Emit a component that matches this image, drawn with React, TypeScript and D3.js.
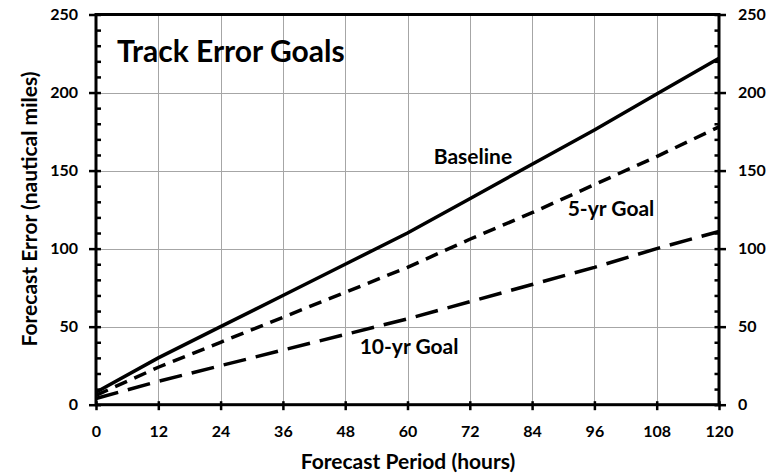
import * as d3 from "d3";
import { useEffect, useRef } from "react";

const hours = [0, 12, 24, 36, 48, 60, 72, 84, 96, 108, 120];
const baseline = [8, 30, 50, 70, 90, 110, 132, 154, 176, 199, 222];
const goal5yr = [6, 24, 40, 56, 72, 88, 106, 123, 141, 159, 178];
const goal10yr = [4, 15, 25, 35, 45, 55, 66, 77, 88, 100, 111];

const xTicks = [0, 12, 24, 36, 48, 60, 72, 84, 96, 108, 120];
const yTicks = [0, 50, 100, 150, 200, 250];
const yMinorTicks = d3.range(0, 251, 10);

const series = [
  { name: "Baseline", values: baseline, dash: null, label: [72.6, 154] },
  { name: "5-yr Goal", values: goal5yr, dash: "13,8", label: [99.2, 121] },
  { name: "10-yr Goal", values: goal10yr, dash: "23,10", label: [60.3, 32.5] },
];

const FONT = "Lato, 'Open Sans', sans-serif";

function App() {
  const ref = useRef<SVGSVGElement>(null);
  const W = 773;
  const H = 473;
  const left = 96;
  const right = 719;
  const top = 14.5;
  const bottom = 404.7;

  useEffect(() => {
    const svg = d3.select(ref.current);
    svg.selectAll("*").remove();

    const x = d3.scaleLinear().domain([0, 120]).range([left, right]);
    const y = d3.scaleLinear().domain([0, 250]).range([bottom, top]);

    // grid
    const grid = svg.append("g").attr("stroke", "#a6a6a6").attr("stroke-width", 1);
    grid
      .selectAll("line.v")
      .data(xTicks.slice(1, -1))
      .join("line")
      .attr("class", "v")
      .attr("x1", (d) => Math.round(x(d)) + 0.5)
      .attr("x2", (d) => Math.round(x(d)) + 0.5)
      .attr("y1", top)
      .attr("y2", bottom);
    grid
      .selectAll("line.h")
      .data(yTicks.slice(1, -1))
      .join("line")
      .attr("class", "h")
      .attr("x1", left)
      .attr("x2", right)
      .attr("y1", (d) => Math.round(y(d)) + 0.5)
      .attr("y2", (d) => Math.round(y(d)) + 0.5);

    // series
    const line = d3
      .line<number>()
      .x((_, i) => x(hours[i]))
      .y((d) => y(d));

    series.forEach((s) => {
      svg
        .append("path")
        .datum(s.values)
        .attr("fill", "none")
        .attr("stroke", "#000")
        .attr("stroke-width", 3.5)
        .attr("stroke-dasharray", s.dash)
        .attr("d", line);
    });

    // axes
    const styleAxis = (g: any, size: number) => {
      g.select(".domain").remove();
      g.selectAll(".tick line").attr("stroke", "#000").attr("stroke-width", 2.5);
      g.selectAll(".tick text")
        .attr("fill", "#000")
        .style("font-family", FONT)
        .style("font-weight", "bold")
        .style("font-size", size + "px");
    };

    svg
      .append("g")
      .attr("transform", `translate(${left},0)`)
      .call(d3.axisRight(y).tickValues(yMinorTicks).tickSize(5).tickFormat(() => ""))
      .call((g) => styleAxis(g, 16));
    svg
      .append("g")
      .attr("transform", `translate(${left},0)`)
      .call(d3.axisLeft(y).tickValues(yTicks).tickSize(7).tickPadding(11))
      .call((g) => styleAxis(g, 16));

    svg
      .append("g")
      .attr("transform", `translate(${right},0)`)
      .call(d3.axisLeft(y).tickValues(yMinorTicks).tickSize(4.5).tickFormat(() => ""))
      .call((g) => styleAxis(g, 16));
    svg
      .append("g")
      .attr("transform", `translate(${right},0)`)
      .call(d3.axisRight(y).tickValues(yTicks).tickSize(7).tickPadding(12))
      .call((g) => styleAxis(g, 16));

    svg
      .append("g")
      .attr("transform", `translate(0,${bottom})`)
      .call(d3.axisTop(x).tickValues(xTicks).tickSize(3.5).tickFormat(() => ""))
      .call((g) => styleAxis(g, 16));
    svg
      .append("g")
      .attr("transform", `translate(0,${bottom})`)
      .call(d3.axisBottom(x).tickValues(xTicks).tickSize(5.5).tickPadding(15))
      .call((g) => styleAxis(g, 16));

    // frame
    svg
      .append("rect")
      .attr("x", left)
      .attr("y", top)
      .attr("width", right - left)
      .attr("height", bottom - top)
      .attr("fill", "none")
      .attr("stroke", "#000")
      .attr("stroke-width", 3);

    const text = (t: string, tx: number, ty: number, size: number, anchor = "middle") =>
      svg
        .append("text")
        .attr("x", tx)
        .attr("y", ty)
        .attr("text-anchor", anchor)
        .style("font-family", FONT)
        .style("font-weight", "bold")
        .style("font-size", size + "px")
        .attr("fill", "#000")
        .text(t);

    // series labels
    series.forEach((s) => {
      text(s.name, x(s.label[0]), y(s.label[1]), 21);
    });

    text("Track Error Goals", 117, 62, 30, "start");
    text("Forecast Period (hours)", 408, 469, 21);
    text("Forecast Error (nautical miles)", 0, 0, 21).attr(
      "transform",
      "translate(37,209) rotate(-90)"
    );
  }, []);

  return (
    <svg
      ref={ref}
      width={W}
      height={H}
      style={{ position: "absolute", left: 0, top: 0, background: "#fff" }}
    />
  );
}

export default App;
